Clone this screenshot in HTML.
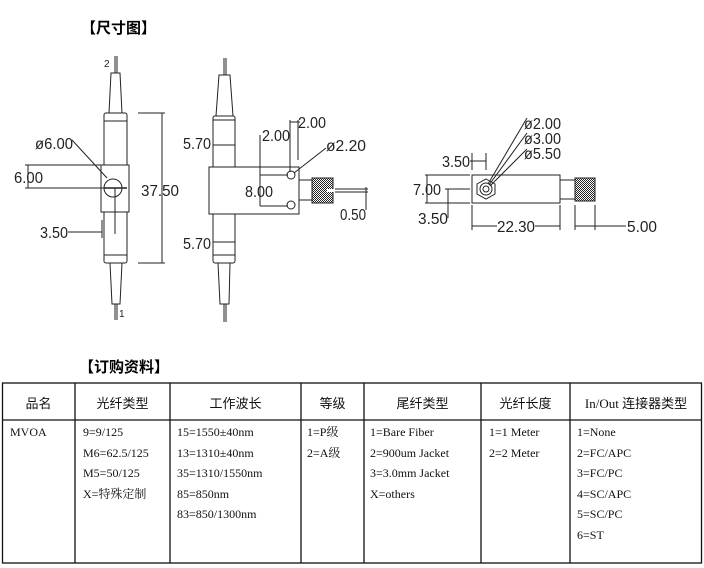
<!DOCTYPE html>
<html><head><meta charset="utf-8"><style>
body{margin:0;width:704px;height:568px;background:#fff;overflow:hidden;position:relative;font-family:"Liberation Serif","Noto Serif CJK SC",serif}
.t{position:absolute;font-weight:bold;font-size:15px;font-family:"Liberation Sans","Noto Sans CJK SC",sans-serif;color:#000}
svg{position:absolute;left:0;top:0}
svg text{font-family:"Liberation Sans",sans-serif;font-size:16px;fill:#222}
.c{position:absolute;font-size:12px;line-height:20.5px;color:#111}
.h{position:absolute;font-size:13px;top:393px;color:#111;font-family:"Liberation Serif","Noto Sans CJK SC",sans-serif;text-align:center}
</style></head><body>
<div class="t" style="left:81px;top:17px">【尺寸图】</div>
<div class="t" style="left:79px;top:356px">【订购资料】</div>
<svg width="704" height="568" viewBox="0 0 704 568">
<defs><pattern id="k" width="2" height="2" patternUnits="userSpaceOnUse"><rect width="2" height="2" fill="#fff"/><rect width="1" height="1" fill="#222"/><rect x="1" y="1" width="1" height="1" fill="#222"/></pattern></defs>
<g stroke="#222" stroke-width="1" fill="none">
<!-- left view -->
<line x1="115" y1="56" x2="115" y2="73"/><line x1="117" y1="56" x2="117" y2="73"/>
<polygon points="111,73 120,73 122,113 109,113" fill="#fff"/>
<rect x="104" y="113" width="23" height="150" rx="2" fill="#fff"/>
<line x1="104" y1="121" x2="127" y2="121"/><line x1="104" y1="255" x2="127" y2="255"/>
<rect x="101" y="165" width="28" height="47" fill="#fff"/>
<circle cx="113" cy="188" r="9"/>
<line x1="104" y1="188" x2="127" y2="188" stroke-width="1.5"/>
<polygon points="110,263 122,263 120,304 112,304" fill="#fff"/>
<line x1="115" y1="304" x2="115" y2="320"/><line x1="117" y1="304" x2="117" y2="320"/>
<line x1="138" y1="113" x2="165" y2="113"/><line x1="138" y1="263" x2="165" y2="263"/><line x1="162" y1="113" x2="162" y2="263"/>
<line x1="72" y1="140" x2="107" y2="178"/>
<line x1="25" y1="165" x2="101" y2="165"/><line x1="25" y1="188" x2="104" y2="188"/><line x1="28" y1="165" x2="28" y2="188"/>
<line x1="68" y1="232" x2="102" y2="232"/><line x1="102" y1="220" x2="102" y2="238"/><line x1="115" y1="188" x2="115" y2="234"/>
<!-- middle view -->
<line x1="224" y1="58" x2="224" y2="75"/><line x1="226" y1="58" x2="226" y2="75"/>
<polygon points="219,75 230,75 233,116 216,116" fill="#fff"/>
<rect x="213" y="116" width="22" height="147" rx="2" fill="#fff"/>
<line x1="213" y1="120" x2="235" y2="120"/><line x1="213" y1="145" x2="235" y2="145"/>
<line x1="213" y1="242" x2="235" y2="242"/><line x1="213" y1="255" x2="235" y2="255"/>
<rect x="209" y="167" width="90" height="47" fill="#fff"/>
<circle cx="291" cy="175" r="4"/><circle cx="291" cy="205" r="4"/>
<rect x="299" y="180" width="13" height="20" fill="#fff"/>
<rect x="312" y="178" width="21" height="25" fill="url(#k)"/>
<rect x="327" y="189" width="7" height="3" fill="#fff" stroke="none"/>
<line x1="335" y1="189" x2="368" y2="189"/><line x1="335" y1="192" x2="368" y2="192"/>
<line x1="366" y1="187" x2="366" y2="210"/>
<polygon points="218,263 230,263 229,304 220,304" fill="#fff"/>
<line x1="224" y1="304" x2="224" y2="322"/><line x1="226" y1="304" x2="226" y2="322"/>
<line x1="260" y1="135" x2="260" y2="206"/><line x1="260" y1="175" x2="288" y2="175"/><line x1="260" y1="206" x2="288" y2="206"/>
<line x1="290" y1="120" x2="290" y2="172"/><line x1="298" y1="120" x2="298" y2="160"/><line x1="290" y1="122" x2="300" y2="122"/>
<line x1="326" y1="148" x2="294" y2="173"/>
<!-- right view -->
<rect x="472" y="175" width="88" height="28" fill="#fff"/>
<polygon points="486,179 495,184 495,194 486,199 477,194 477,184" fill="#fff"/>
<circle cx="486" cy="189" r="6"/><circle cx="486" cy="189" r="3"/>
<rect x="560" y="180" width="15" height="19" fill="#fff"/>
<rect x="575" y="178" width="20" height="23" fill="url(#k)"/>
<line x1="527" y1="118" x2="488" y2="184"/><line x1="527" y1="133" x2="489" y2="185"/><line x1="527" y1="149" x2="490" y2="186"/>
<line x1="472" y1="153" x2="472" y2="170"/><line x1="486" y1="153" x2="486" y2="170"/><line x1="470" y1="161" x2="486" y2="161"/>
<line x1="425" y1="175" x2="470" y2="175"/><line x1="425" y1="203" x2="470" y2="203"/><line x1="427" y1="175" x2="427" y2="203"/>
<line x1="445" y1="189" x2="470" y2="189"/><line x1="448" y1="189" x2="448" y2="218"/>
<line x1="472" y1="205" x2="472" y2="230"/><line x1="560" y1="205" x2="560" y2="230"/><line x1="472" y1="226" x2="497" y2="226"/><line x1="535" y1="226" x2="560" y2="226"/>
<line x1="575" y1="205" x2="575" y2="230"/><line x1="595" y1="205" x2="595" y2="230"/><line x1="575" y1="226" x2="626" y2="226"/>
</g>
<g>
<text x="104" y="67" style="font-size:10px">2</text>
<text x="119" y="317" style="font-size:10px">1</text>
<text x="141" y="196" textLength="38" lengthAdjust="spacingAndGlyphs">37.50</text>
<text x="35" y="149" textLength="38" lengthAdjust="spacingAndGlyphs">ø6.00</text>
<text x="14" y="183" textLength="29" lengthAdjust="spacingAndGlyphs">6.00</text>
<text x="40" y="238" textLength="28" lengthAdjust="spacingAndGlyphs">3.50</text>
<text x="183" y="149" textLength="28" lengthAdjust="spacingAndGlyphs">5.70</text>
<text x="183" y="249" textLength="28" lengthAdjust="spacingAndGlyphs">5.70</text>
<text x="262" y="141" textLength="28" lengthAdjust="spacingAndGlyphs">2.00</text>
<text x="298" y="128" textLength="28" lengthAdjust="spacingAndGlyphs">2.00</text>
<text x="245" y="197" textLength="28" lengthAdjust="spacingAndGlyphs">8.00</text>
<text x="326" y="151" textLength="40" lengthAdjust="spacingAndGlyphs">ø2.20</text>
<text x="340" y="220" textLength="26" lengthAdjust="spacingAndGlyphs">0.50</text>
<text x="524" y="129" textLength="37" lengthAdjust="spacingAndGlyphs">ø2.00</text>
<text x="524" y="144" textLength="37" lengthAdjust="spacingAndGlyphs">ø3.00</text>
<text x="524" y="159" textLength="37" lengthAdjust="spacingAndGlyphs">ø5.50</text>
<text x="442" y="167" textLength="28" lengthAdjust="spacingAndGlyphs">3.50</text>
<text x="413" y="195" textLength="28" lengthAdjust="spacingAndGlyphs">7.00</text>
<text x="418" y="224" textLength="30" lengthAdjust="spacingAndGlyphs">3.50</text>
<text x="497" y="232" textLength="38" lengthAdjust="spacingAndGlyphs">22.30</text>
<text x="627" y="232" textLength="30" lengthAdjust="spacingAndGlyphs">5.00</text>
</g>
<g stroke="#111" stroke-width="1.3">
<rect x="2.5" y="383" width="699" height="180" fill="none"/>
<line x1="2" y1="420" x2="702" y2="420"/>
<line x1="75" y1="383" x2="75" y2="563"/><line x1="170" y1="383" x2="170" y2="563"/>
<line x1="301" y1="383" x2="301" y2="563"/><line x1="364" y1="383" x2="364" y2="563"/>
<line x1="481" y1="383" x2="481" y2="563"/><line x1="570" y1="383" x2="570" y2="563"/>
</g>
</svg>
<div class="h" style="left:2px;width:73px">品名</div>
<div class="h" style="left:75px;width:95px">光纤类型</div>
<div class="h" style="left:170px;width:131px">工作波长</div>
<div class="h" style="left:301px;width:63px">等级</div>
<div class="h" style="left:364px;width:117px">尾纤类型</div>
<div class="h" style="left:481px;width:89px">光纤长度</div>
<div class="h" style="left:570px;width:132px">In/Out 连接器类型</div>
<div class="c" style="left:10px;top:422px">MVOA</div>
<div class="c" style="left:83px;top:422px">9=9/125<br>M6=62.5/125<br>M5=50/125<br>X=特殊定制</div>
<div class="c" style="left:177px;top:422px">15=1550±40nm<br>13=1310±40nm<br>35=1310/1550nm<br>85=850nm<br>83=850/1300nm</div>
<div class="c" style="left:307px;top:422px">1=P级<br>2=A级</div>
<div class="c" style="left:370px;top:422px">1=Bare Fiber<br>2=900um Jacket<br>3=3.0mm Jacket<br>X=others</div>
<div class="c" style="left:489px;top:422px">1=1 Meter<br>2=2 Meter</div>
<div class="c" style="left:577px;top:422px">1=None<br>2=FC/APC<br>3=FC/PC<br>4=SC/APC<br>5=SC/PC<br>6=ST</div>
</body></html>
